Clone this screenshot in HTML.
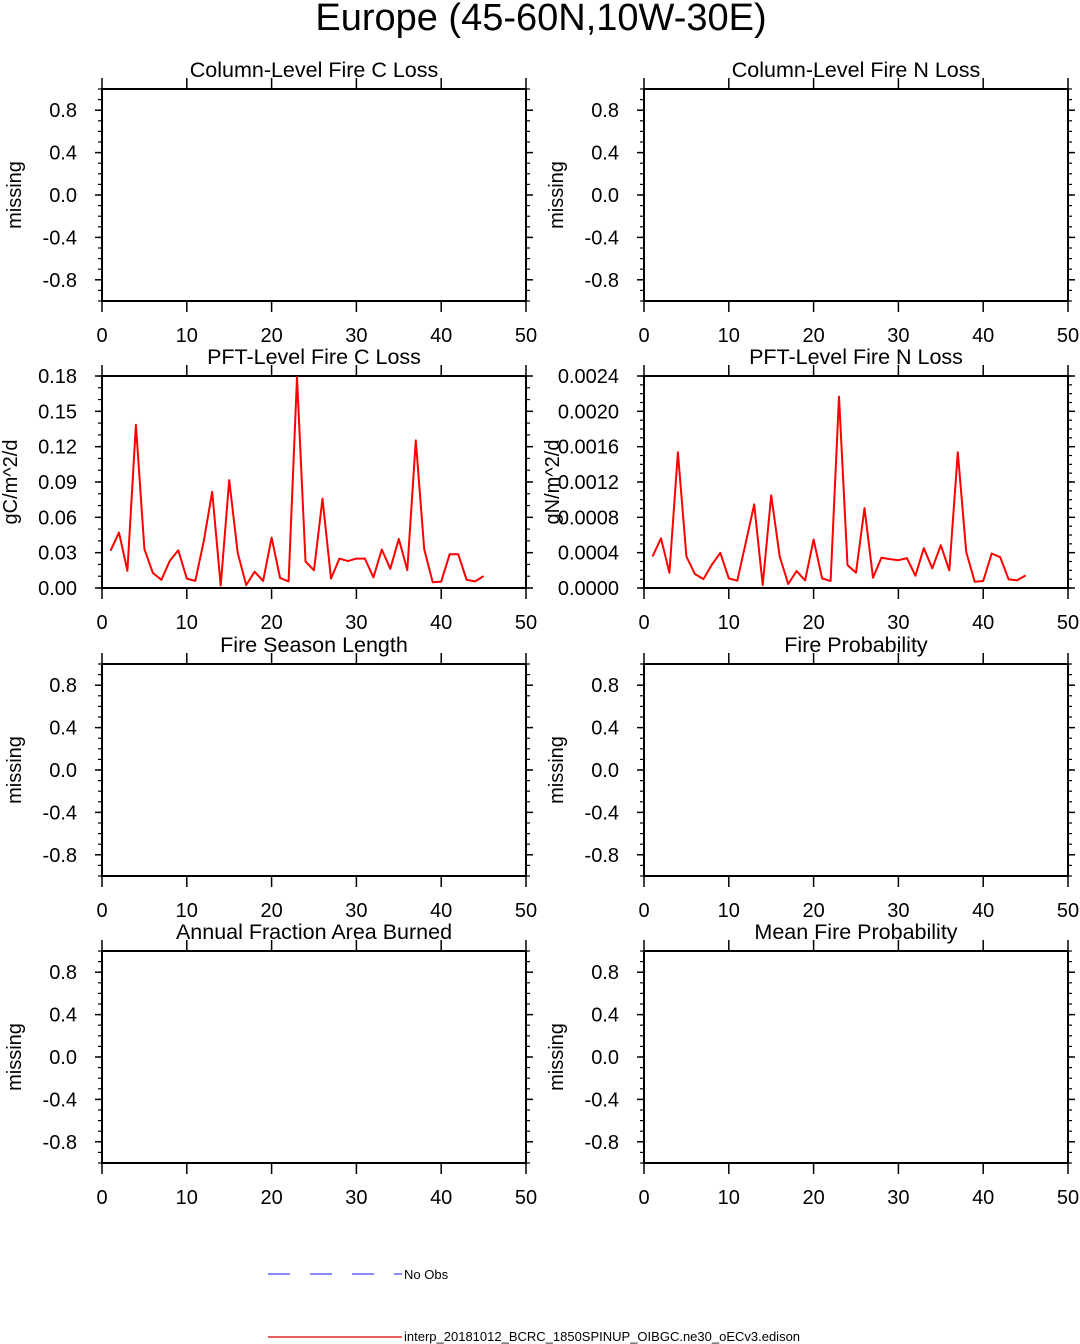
<!DOCTYPE html>
<html><head><meta charset="utf-8"><style>
body{margin:0;background:#fff}
svg{display:block;font-family:"Liberation Sans",sans-serif}
</style></head><body>
<svg id="s" width="1080" height="1344" xmlns="http://www.w3.org/2000/svg">
<text x="541" y="30" font-size="38" text-anchor="middle">Europe (45-60N,10W-30E)</text>
<g>
<line x1="268" y1="1274" x2="402" y2="1274" stroke="#4444ff" stroke-width="1.2" stroke-dasharray="22,20"/>
<text x="404" y="1279" font-size="13">No Obs</text>
<line x1="268" y1="1337" x2="402" y2="1337" stroke="#dd0000" stroke-width="1.2"/>
<text x="404" y="1341" font-size="13">interp_20181012_BCRC_1850SPINUP_OIBGC.ne30_oECv3.edison</text>
</g>
</svg>
<script>
const years=[1,2,3,4,5,6,7,8,9,10,11,12,13,14,15,16,17,18,19,20,21,22,23,24,25,26,27,28,29,30,31,32,33,34,35,36,37,38,39,40,41,42,43,44,45];
const pftC=[0.0316,0.047,0.0146,0.1386,0.033,0.0127,0.007,0.023,0.032,0.008,0.006,0.040,0.0817,0.002,0.0916,0.030,0.0025,0.0138,0.006,0.0428,0.0085,0.0056,0.179,0.0225,0.015,0.0758,0.008,0.025,0.0228,0.025,0.025,0.009,0.0327,0.0163,0.0417,0.0152,0.1253,0.033,0.0048,0.0054,0.0287,0.0287,0.007,0.0056,0.0101];
const pftN=[0.000357,0.000563,0.000173,0.001536,0.000357,0.000158,0.000101,0.000263,0.000398,0.000109,0.000083,0.000515,0.000946,0.000034,0.001048,0.000357,0.000045,0.000192,0.000086,0.000548,0.000109,0.000079,0.002167,0.000259,0.000173,0.000905,0.000116,0.000342,0.000327,0.000315,0.000338,0.000139,0.000451,0.000222,0.000485,0.000199,0.001536,0.000409,0.000071,0.000079,0.000391,0.000349,0.000098,0.000086,0.000143];
const missTicks=["0.8","0.4","0.0","-0.4","-0.8"];
const cTicks=["0.00","0.03","0.06","0.09","0.12","0.15","0.18"];
const nTicks=["0.0000","0.0004","0.0008","0.0012","0.0016","0.0020","0.0024"];
const xTicks=["0","10","20","30","40","50"];
const NS="http://www.w3.org/2000/svg";
const svg=document.getElementById('s');
function mk(tag,attrs,parent){const e=document.createElementNS(NS,tag);for(const k in attrs)e.setAttribute(k,attrs[k]);parent.appendChild(e);return e;}
const panels=[
 {t:"Column-Level Fire C Loss",c:0,r:0,miss:true,name:"column-fire-c-loss"},
 {t:"Column-Level Fire N Loss",c:1,r:0,miss:true,name:"column-fire-n-loss"},
 {t:"PFT-Level Fire C Loss",c:0,r:1,data:pftC,ymax:0.18,ticks:cTicks,minor:0.01,ylab:"gC/m^2/d",name:"pft-fire-c-loss"},
 {t:"PFT-Level Fire N Loss",c:1,r:1,data:pftN,ymax:0.0024,ticks:nTicks,minor:0.0001,ylab:"gN/m^2/d",name:"pft-fire-n-loss"},
 {t:"Fire Season Length",c:0,r:2,miss:true,name:"fire-season-length"},
 {t:"Fire Probability",c:1,r:2,miss:true,name:"fire-probability"},
 {t:"Annual Fraction Area Burned",c:0,r:3,miss:true,name:"annual-fraction-area-burned"},
 {t:"Mean Fire Probability",c:1,r:3,miss:true,name:"mean-fire-probability"}
];
const tops=[89,376,664,951];
panels.forEach(p=>{
 const x0=p.c?644:102,x1=x0+424,y0=tops[p.r],y1=y0+212;
 const g=mk('g',{},svg);
 
 
 const X=v=>x0+(v/50)*(x1-x0);
 let ymin,ymax;
 if(p.miss){ymin=-1;ymax=1;}else{ymin=0;ymax=p.ymax;}
 const Y=v=>y1-(v-ymin)/(ymax-ymin)*(y1-y0);
 const fr=mk('rect',{x:x0,y:y0,width:x1-x0,height:y1-y0,fill:'none',stroke:'#000','stroke-width':2},g);
 
 
 xTicks.forEach(tl=>{const v=+tl,xx=X(v);
  mk('line',{x1:xx,y1:y0,x2:xx,y2:y0-11,stroke:'#000','stroke-width':1.5},g);
  mk('line',{x1:xx,y1:y1,x2:xx,y2:y1+11,stroke:'#000','stroke-width':1.5},g);
  const t=mk('text',{x:xx,y:y1+41,'font-size':20,'text-anchor':'middle'},g);t.textContent=tl;
  
  
 });
 const minor=p.miss?0.1:p.minor;
 const n=Math.round((ymax-ymin)/minor);
 for(let i=0;i<=n;i++){const yy=Y(ymin+i*minor);
  mk('line',{x1:x0,y1:yy,x2:x0-4,y2:yy,stroke:'#000','stroke-width':1.2},g);
  mk('line',{x1:x1,y1:yy,x2:x1+4,y2:yy,stroke:'#000','stroke-width':1.2},g);}
 const labs=p.miss?missTicks:p.ticks;
 labs.forEach(tl=>{const yy=Y(+tl);
  mk('line',{x1:x0,y1:yy,x2:x0-7,y2:yy,stroke:'#000','stroke-width':1.5},g);
  mk('line',{x1:x1,y1:yy,x2:x1+7,y2:yy,stroke:'#000','stroke-width':1.5},g);
  const t=mk('text',{x:x0-25,y:yy+7,'font-size':20,'text-anchor':'end'},g);t.textContent=tl;
  
  
 });
 const tt=mk('text',{x:(x0+x1)/2,y:y0-12,'font-size':21.5,'text-anchor':'middle'},g);tt.textContent=p.t;
 
 
 const yl=p.miss?'missing':p.ylab;
 const lx=p.miss?(x0-88):(x0-92);
 const yt=mk('text',{x:lx,y:(y0+y1)/2,'font-size':20,'text-anchor':'middle',transform:`rotate(-90 ${lx} ${(y0+y1)/2})`},g);
 yt.textContent=yl;yt.setAttribute('dy','7');
 
 
 if(p.data){
  const pts=p.data.map((v,i)=>X(years[i]).toFixed(1)+','+Y(v).toFixed(1)).join(' ');
  const pl=mk('polyline',{points:pts,fill:'none',stroke:'#ff0000','stroke-width':2,'stroke-linejoin':'round'},g);
  
  
 }
});
</script>
</body></html>
